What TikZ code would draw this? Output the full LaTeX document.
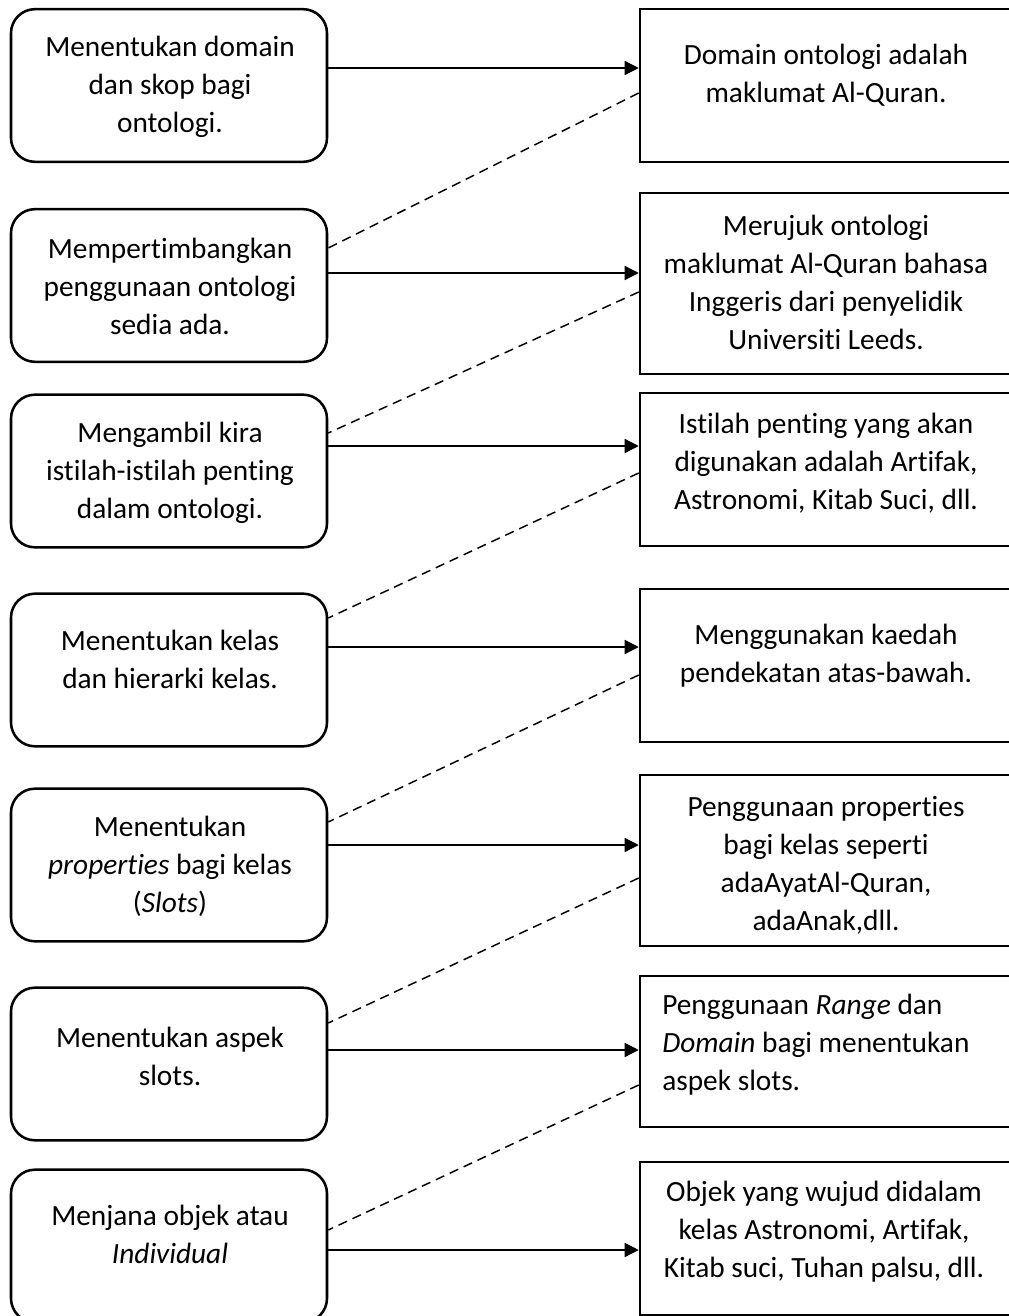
\documentclass[tikz,border=0pt]{standalone}
\usepackage{fontspec}
\setmainfont{Carlito}[Ligatures=NoCommon]
\usetikzlibrary{arrows.meta}
\tikzset{
  lbox/.style={draw, line width=1.9pt, rounded corners=18pt, minimum width=237pt, minimum height=114.5pt, inner sep=0pt},
  rbox/.style={draw, line width=1.9pt, minimum width=300pt, minimum height=114.75pt, inner sep=0pt},
  txt/.style={align=center, inner sep=0pt, font=\fontsize{22}{28.5}\selectfont},
  arr/.style={line width=0.9pt, -{Triangle[length=10.5pt,width=10.5pt]}},
  lnk/.style={line width=1.1pt, dash pattern=on 7pt off 4.5pt}
}
\begin{document}
\begin{tikzpicture}[x=0.75pt,y=0.75pt]
    \useasboundingbox (0,0) rectangle (1008,-1316);
    % steps (left)
    \node [lbox] (l1) at (169,-85.5) {};
    \node [lbox] (l2) at (169,-285.5) {};
    \node [lbox] (l3) at (169,-471) {};
    \node [lbox] (l4) at (169,-670) {};
    \node [lbox] (l5) at (169,-865) {};
    \node [lbox] (l6) at (169,-1064) {};
    \node [lbox] (l7) at (169,-1246) {};
    % outcomes (right)
    \node [rbox] (r1) at (840,-85.5) {};
    \node [rbox,minimum height=135.75pt] (r2) at (840,-283.5) {};
    \node [rbox] (r3) at (840,-469.5) {};
    \node [rbox] (r4) at (840,-665.5) {};
    \node [rbox,minimum height=128.25pt] (r5) at (840,-860.5) {};
    \node [rbox,minimum height=113.25pt] (r6) at (840,-1051.5) {};
    \node [rbox] (r7) at (840,-1238.5) {};
    % texts
    \node [txt] (lt1) at (170,-87) {Menentukan domain\\dan skop bagi\\ontologi.};
    \node [txt] (lt2) at (170,-286) {Mempertimbangkan\\penggunaan ontologi\\sedia ada.};
    \node [txt] (lt3) at (170,-473) {Mengambil kira\\istilah-istilah penting\\dalam ontologi.};
    \node [txt] (lt4) at (170,-659) {Menentukan kelas\\dan hierarki kelas.};
    \node [txt] (lt5) at (170,-866) {Menentukan\\\textit{properties} bagi kelas\\(\textit{Slots})};
    \node [txt] (lt6) at (170,-1056) {Menentukan aspek\\slots.};
    \node [txt] (lt7) at (170,-1234) {Menjana objek atau\\\textit{Individual}};
    \node [txt] (rt1) at (826,-75) {Domain ontologi adalah\\maklumat Al-Quran.};
    \node [txt] (rt2) at (826,-282) {Merujuk ontologi\\maklumat Al-Quran bahasa\\Inggeris dari penyelidik\\Universiti Leeds.};
    \node [txt] (rt3) at (826,-463) {Istilah penting yang akan\\digunakan adalah Artifak,\\Astronomi, Kitab Suci, dll.};
    \node [txt] (rt4) at (826,-656) {Menggunakan kaedah\\pendekatan atas-bawah.};
    \node [txt] (rt5) at (826,-865) {Penggunaan properties\\bagi kelas seperti\\adaAyatAl-Quran,\\adaAnak,dll.};
    \node [txt,align=left,anchor=west] (rt6) at (662,-1045) {Penggunaan \textit{Range} dan\\\textit{Domain} bagi menentukan\\aspek slots.};
    \node [txt] (rt7) at (824,-1232) {Objek yang wujud didalam\\kelas Astronomi, Artifak,\\Kitab suci, Tuhan palsu, dll.};
    % solid arrows
    \draw [arr] (l1.east |- 0,-68) -- (r1.west |- 0,-68);
    \draw [arr] (l2.east |- 0,-273) -- (r2.west |- 0,-273);
    \draw [arr] (l3.east |- 0,-446) -- (r3.west |- 0,-446);
    \draw [arr] (l4.east |- 0,-647) -- (r4.west |- 0,-647);
    \draw [arr] (l5.east |- 0,-845) -- (r5.west |- 0,-845);
    \draw [arr] (l6.east |- 0,-1050) -- (r6.west |- 0,-1050);
    \draw [arr] (l7.east |- 0,-1250) -- (r7.west |- 0,-1250);
    % dashed links
    \draw [lnk] (r1.west |- 0,-93) -- (l2.east |- 0,-248);
    \draw [lnk] (r2.west |- 0,-292) -- (l3.east |- 0,-433);
    \draw [lnk] (r3.west |- 0,-473) -- (l4.east |- 0,-618);
    \draw [lnk] (r4.west |- 0,-675) -- (l5.east |- 0,-822);
    \draw [lnk] (r5.west |- 0,-878) -- (l6.east |- 0,-1023);
    \draw [lnk] (r6.west |- 0,-1085) -- (l7.east |- 0,-1230);
\end{tikzpicture}
\end{document}
